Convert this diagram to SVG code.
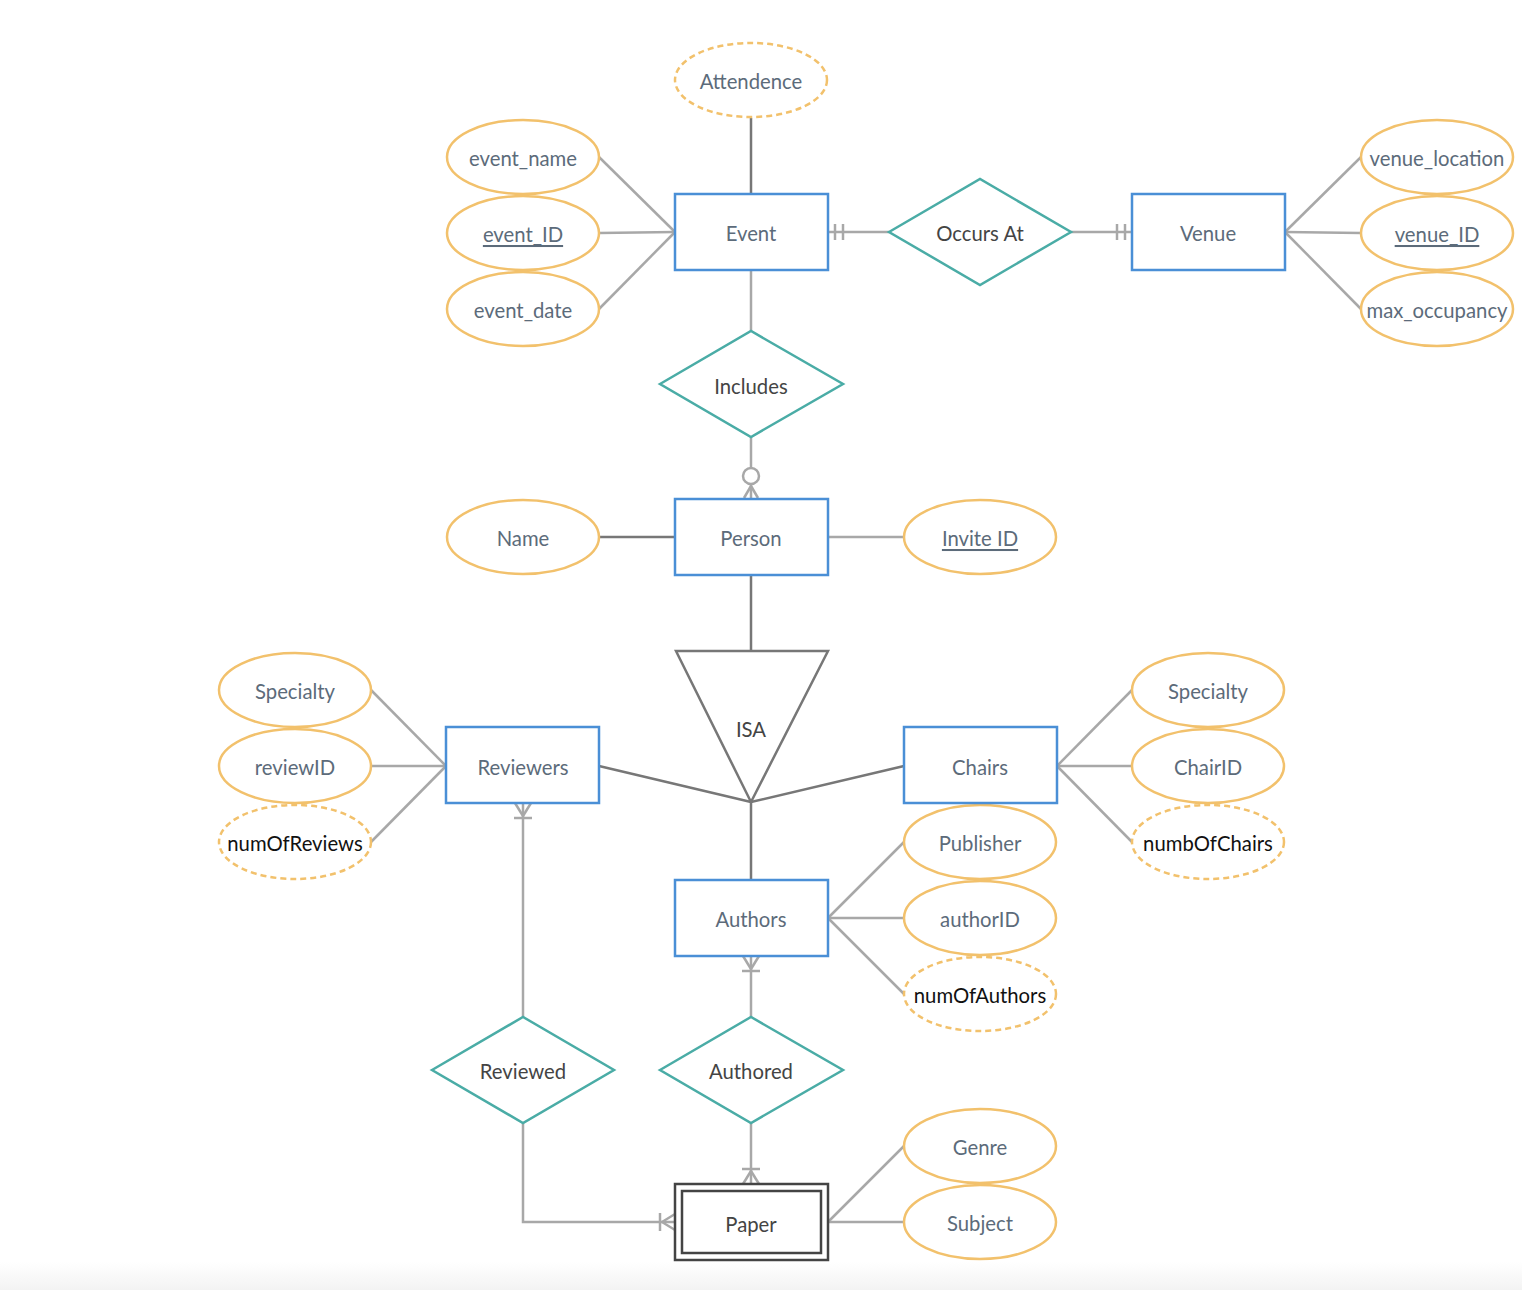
<svg xmlns="http://www.w3.org/2000/svg" width="1522" height="1290" viewBox="0 0 1522 1290">
<style>
text{font-family:Lato,"Liberation Sans",sans-serif;font-size:20.3px;text-anchor:middle;dominant-baseline:central}
.attr ellipse{fill:#fff;stroke:#f2c16c;stroke-width:2.5}
.attr.d ellipse{stroke-dasharray:6 4}
.attr text{fill:#5c6b7a}
.attr.d text{fill:#111}
.attr.g text{fill:#5c6b7a}
.ent rect{fill:#fff;stroke:#4a8fd6;stroke-width:2.5}
.ent text{fill:#5c6b7a}
.rel polygon{fill:#fff;stroke:#4aaca6;stroke-width:2.5}
.rel text{fill:#444}
.c line,.c polyline,.c circle{stroke:#a8a8a8;stroke-width:2.5;fill:none}
.c .dk{stroke:#777}
</style>
<defs><linearGradient id="bg" x1="0" y1="0" x2="0" y2="1"><stop offset="0" stop-color="#fff"/><stop offset="1" stop-color="#f3f3f3"/></linearGradient></defs>
<rect x="0" y="1262" width="1522" height="28" fill="url(#bg)"/>
<g class="c" id="connectors">
<line x1="751" y1="118" x2="751" y2="193" class="dk"/>
<line x1="599" y1="157" x2="675" y2="232"/>
<line x1="599" y1="233" x2="675" y2="232"/>
<line x1="599" y1="309" x2="675" y2="232"/>
<line x1="1285" y1="232" x2="1361" y2="157"/>
<line x1="1285" y1="232" x2="1361" y2="233"/>
<line x1="1285" y1="232" x2="1361" y2="309"/>
<line x1="828" y1="232" x2="889" y2="232"/>
<line x1="835" y1="224" x2="835" y2="240"/>
<line x1="843" y1="224" x2="843" y2="240"/>
<line x1="1071" y1="232" x2="1132" y2="232"/>
<line x1="1117" y1="224" x2="1117" y2="240"/>
<line x1="1125" y1="224" x2="1125" y2="240"/>
<line x1="751" y1="270" x2="751" y2="331"/>
<line x1="751" y1="437" x2="751" y2="468"/>
<circle cx="751" cy="476" r="8"/>
<line x1="751" y1="484" x2="751" y2="498"/>
<line x1="751" y1="486" x2="744" y2="498"/>
<line x1="751" y1="486" x2="758" y2="498"/>
<line x1="599" y1="537" x2="675" y2="537" class="dk"/>
<line x1="828" y1="537" x2="904" y2="537"/>
<line x1="751" y1="575" x2="751" y2="651" class="dk"/>
<line x1="599" y1="766" x2="751" y2="802" class="dk"/>
<line x1="904" y1="766" x2="751" y2="802" class="dk"/>
<line x1="751" y1="802" x2="751" y2="879" class="dk"/>
<line x1="371" y1="690" x2="446" y2="766"/>
<line x1="371" y1="766" x2="446" y2="766"/>
<line x1="371" y1="842" x2="446" y2="766"/>
<line x1="1057" y1="766" x2="1132" y2="690"/>
<line x1="1057" y1="766" x2="1132" y2="766"/>
<line x1="1057" y1="766" x2="1132" y2="842"/>
<line x1="828" y1="918" x2="904" y2="842"/>
<line x1="828" y1="918" x2="904" y2="918"/>
<line x1="828" y1="918" x2="904" y2="994"/>
<line x1="523" y1="803" x2="523" y2="1017"/>
<line x1="523" y1="816" x2="515" y2="803"/>
<line x1="523" y1="816" x2="531" y2="803"/>
<line x1="514" y1="818" x2="532" y2="818"/>
<line x1="751" y1="956" x2="751" y2="1017"/>
<line x1="751" y1="969" x2="743" y2="956"/>
<line x1="751" y1="969" x2="759" y2="956"/>
<line x1="742" y1="971" x2="760" y2="971"/>
<line x1="751" y1="1123" x2="751" y2="1184"/>
<line x1="751" y1="1171" x2="743" y2="1184"/>
<line x1="751" y1="1171" x2="759" y2="1184"/>
<line x1="742" y1="1169" x2="760" y2="1169"/>
<polyline points="523,1123 523,1222 675,1222"/>
<line x1="662" y1="1222" x2="675" y2="1214"/>
<line x1="662" y1="1222" x2="675" y2="1230"/>
<line x1="660" y1="1213" x2="660" y2="1231"/>
<line x1="828" y1="1222" x2="904" y2="1146"/>
<line x1="828" y1="1222" x2="904" y2="1222"/>
</g>
<g id="attendence" class="attr d g"><ellipse cx="751" cy="80" rx="76" ry="37"/><text x="751" y="81">Attendence</text></g>
<g id="event_name" class="attr"><ellipse cx="523" cy="157" rx="76" ry="37"/><text x="523" y="158">event_name</text></g>
<g id="event_ID" class="attr"><ellipse cx="523" cy="233" rx="76" ry="37"/><text x="523" y="234" text-decoration="underline">event_ID</text></g>
<g id="event_date" class="attr"><ellipse cx="523" cy="309" rx="76" ry="37"/><text x="523" y="310">event_date</text></g>
<g id="venue_location" class="attr"><ellipse cx="1437" cy="157" rx="76" ry="37"/><text x="1437" y="158">venue_location</text></g>
<g id="venue_ID" class="attr"><ellipse cx="1437" cy="233" rx="76" ry="37"/><text x="1437" y="234" text-decoration="underline">venue_ID</text></g>
<g id="max_occupancy" class="attr"><ellipse cx="1437" cy="309" rx="76" ry="37"/><text x="1437" y="310">max_occupancy</text></g>
<g id="name" class="attr"><ellipse cx="523" cy="537" rx="76" ry="37"/><text x="523" y="538">Name</text></g>
<g id="invite_id" class="attr"><ellipse cx="980" cy="537" rx="76" ry="37"/><text x="980" y="538" text-decoration="underline">Invite ID</text></g>
<g id="specialty_r" class="attr"><ellipse cx="295" cy="690" rx="76" ry="37"/><text x="295" y="691">Specialty</text></g>
<g id="reviewID" class="attr"><ellipse cx="295" cy="766" rx="76" ry="37"/><text x="295" y="767">reviewID</text></g>
<g id="numOfReviews" class="attr d"><ellipse cx="295" cy="842" rx="76" ry="37"/><text x="295" y="843">numOfReviews</text></g>
<g id="specialty_c" class="attr"><ellipse cx="1208" cy="690" rx="76" ry="37"/><text x="1208" y="691">Specialty</text></g>
<g id="chairID" class="attr"><ellipse cx="1208" cy="766" rx="76" ry="37"/><text x="1208" y="767">ChairID</text></g>
<g id="numbOfChairs" class="attr d"><ellipse cx="1208" cy="842" rx="76" ry="37"/><text x="1208" y="843">numbOfChairs</text></g>
<g id="publisher" class="attr"><ellipse cx="980" cy="842" rx="76" ry="37"/><text x="980" y="843">Publisher</text></g>
<g id="authorID" class="attr"><ellipse cx="980" cy="918" rx="76" ry="37"/><text x="980" y="919">authorID</text></g>
<g id="numOfAuthors" class="attr d"><ellipse cx="980" cy="994" rx="76" ry="37"/><text x="980" y="995">numOfAuthors</text></g>
<g id="genre" class="attr"><ellipse cx="980" cy="1146" rx="76" ry="37"/><text x="980" y="1147">Genre</text></g>
<g id="subject" class="attr"><ellipse cx="980" cy="1222" rx="76" ry="37"/><text x="980" y="1223">Subject</text></g>
<g id="event" class="ent"><rect x="675" y="194" width="153" height="76"/><text x="751" y="233">Event</text></g>
<g id="venue" class="ent"><rect x="1132" y="194" width="153" height="76"/><text x="1208" y="233">Venue</text></g>
<g id="person" class="ent"><rect x="675" y="499" width="153" height="76"/><text x="751" y="538">Person</text></g>
<g id="reviewers" class="ent"><rect x="446" y="727" width="153" height="76"/><text x="523" y="767">Reviewers</text></g>
<g id="chairs" class="ent"><rect x="904" y="727" width="153" height="76"/><text x="980" y="767">Chairs</text></g>
<g id="authors" class="ent"><rect x="675" y="880" width="153" height="76"/><text x="751" y="919">Authors</text></g>
<g id="paper"><rect x="675" y="1184" width="153" height="76" fill="#fff" stroke="#444" stroke-width="2.5"/><rect x="682" y="1191" width="139" height="62" fill="#fff" stroke="#444" stroke-width="2.5"/><text x="751" y="1224" fill="#444">Paper</text></g>
<g id="occurs_at" class="rel"><polygon points="889,232 980,179 1071,232 980,285"/><text x="980" y="233">Occurs At</text></g>
<g id="includes" class="rel"><polygon points="660,384 751,331 843,384 751,437"/><text x="751" y="386">Includes</text></g>
<g id="reviewed" class="rel"><polygon points="432,1070 523,1017 614,1070 523,1123"/><text x="523" y="1071">Reviewed</text></g>
<g id="authored" class="rel"><polygon points="660,1070 751,1017 843,1070 751,1123"/><text x="751" y="1071">Authored</text></g>
<g id="isa"><polygon points="676,651 828,651 751,802" fill="#fff" stroke="#777" stroke-width="2.5" stroke-linejoin="miter"/><text x="751" y="729" fill="#444">ISA</text></g>
</svg>
